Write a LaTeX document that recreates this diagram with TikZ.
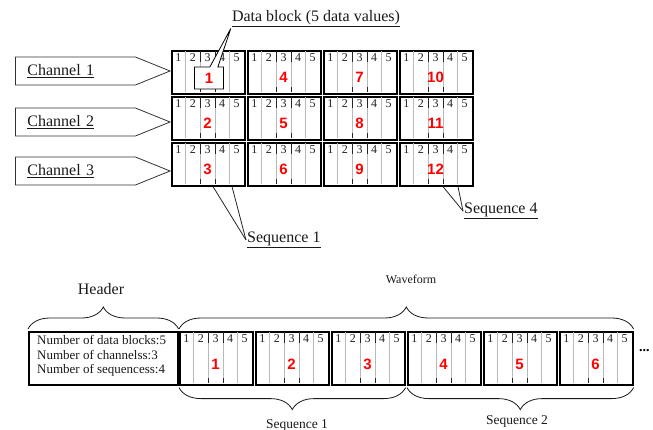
\documentclass[tikz,border=0pt]{standalone}
\usepackage{fontspec}
\setmainfont{Liberation Serif}
\newfontfamily\numfont{Liberation Sans}
\usetikzlibrary{shapes.symbols,shapes.callouts,decorations.pathreplacing,calc}

\tikzset{
  blockframe/.style={draw=black, line width=1.6pt, minimum width=73pt,
    inner sep=0pt, anchor=north west},
  colline/.style={draw=gray!55, line width=0.6pt},
  coltick/.style={draw=gray!30!black, line width=0.6pt},
  digit/.style={inner sep=0pt, text=gray!25!black, font=\fontsize{12}{12}\selectfont},
  bignum/.style={inner sep=0pt, text=red, font=\numfont\bfseries\fontsize{15}{15}\selectfont},
  chan/.style={signal, signal to=east, draw=gray!40!black, line width=0.8pt,
    minimum width=140pt, minimum height=28pt, signal pointer angle=44,
    inner xsep=12pt, text width=96pt, align=left, anchor=west,
    font=\fontsize{16}{16}\selectfont, text=gray!20!black},
  toplabel/.style={inner sep=1pt, text=gray!20!black, font=\fontsize{16}{16}\selectfont},
  botlabel/.style={inner sep=1pt, text=gray!20!black, font=\fontsize{13.5}{13.5}\selectfont},
  pointerline/.style={draw=gray!30!black, line width=0.8pt},
  bracestyle/.style={draw=gray!20!black, line width=0.8pt,
    decorate, decoration={brace, amplitude=22pt}},
  mbracestyle/.style={bracestyle, decoration={brace, amplitude=22pt, mirror}}
}

% one data block: name, x, y, height, big label
\newcommand\datablk[5]{%
  \node[blockframe, minimum height=#4pt] (#1) at (#2,#3) {};
  \begin{scope}[shift={(#1.north west)}]
    \foreach \i in {1,...,4}
      \draw[colline] (\i*14.6,0.8) -- (\i*14.6,#4-0.8);
    \foreach \i in {2,3} {
      \draw[coltick] (\i*14.6,0.8) -- (\i*14.6,12);
      \draw[coltick] (\i*14.6,#4-0.8) -- (\i*14.6,#4-6);
    }
    \foreach \i in {1,...,5}
      \node[digit] (#1-d\i) at (\i*14.6-7.3,8) {\i};
    \node[bignum] (#1-n) at (36.5,#4*0.63) {#5};
  \end{scope}%
}

\begin{document}
\begin{tikzpicture}[x=1pt, y=-1pt]
\useasboundingbox (0,0) rectangle (653,430);

% ---------- channel / sequence grid ----------
\node[chan] (ch1) at (15,71) {\underline{Channel 1}};
\node[chan] (ch2) at (15,122) {\underline{Channel 2}};
\node[chan] (ch3) at (15,171) {\underline{Channel 3}};

\datablk{g1}{171}{50}{43}{}
\datablk{g2}{171}{96}{43}{2}
\datablk{g3}{171}{142}{43}{3}
\datablk{g4}{247}{50}{43}{4}
\datablk{g5}{247}{96}{43}{5}
\datablk{g6}{247}{142}{43}{6}
\datablk{g7}{323}{50}{43}{7}
\datablk{g8}{323}{96}{43}{8}
\datablk{g9}{323}{142}{43}{9}
\datablk{g10}{399}{50}{43}{10}
\datablk{g11}{399}{96}{43}{11}
\datablk{g12}{399}{142}{43}{12}

% data block callout
\node[toplabel] (dbtext) at (316,19) {\underline{Data block (5 data values)}};
\node[rectangle callout, draw=black, fill=white, line width=0.8pt,
      minimum width=29pt, minimum height=22pt, inner sep=0pt,
      callout pointer width=8pt,
      callout absolute pointer={(dbtext.south west)},
      text=red, font=\numfont\bfseries\fontsize{15}{15}\selectfont]
  (cbox) at (209,78) {1};

% sequence callouts
\node[toplabel, anchor=west] (seqA) at (246,240) {\underline{Sequence 1}};
\draw[pointerline] ($(g3.south west)+(42,0)$) -- (seqA.west);
\draw[pointerline] ($(g3.south west)+(61,0)$) -- (seqA.west);
\node[toplabel, anchor=west] (seqB) at (463,211) {\underline{Sequence 4}};
\draw[pointerline] ($(g12.south west)+(44,0)$) -- (seqB.west);
\draw[pointerline] ($(g12.south west)+(59,0)$) -- (seqB.west);

% ---------- serialized stream ----------
\node[blockframe, minimum width=149pt, minimum height=53pt] (hdr) at (28,331) {};
\node[anchor=west, inner sep=0pt, align=left, text=gray!20!black,
      font=\fontsize{13}{14.5}\selectfont] (hdrtxt) at (37,356)
  {Number of data blocks:5\\Number of channelss:3\\Number of sequencess:4};

\datablk{s1}{179}{331}{53}{1}
\datablk{s2}{255}{331}{53}{2}
\datablk{s3}{331}{331}{53}{3}
\datablk{s4}{407}{331}{53}{4}
\datablk{s5}{483}{331}{53}{5}
\datablk{s6}{559}{331}{53}{6}

\node[inner sep=0pt, font=\bfseries\fontsize{14}{14}\selectfont, anchor=west] (more) at (639,351) {...};

% braces
\draw[bracestyle] ($(hdr.north west)+(0,-2)$) -- ($(hdr.north east)+(0,-2)$);
\node[toplabel] (hdrlbl) at (101,289) {Header};
\draw[bracestyle] ($(s1.north west)+(0,-2)$) -- ($(s6.north east)+(0,-2)$);
\node[toplabel, font=\fontsize{12}{12}\selectfont] (wflbl) at (411,279) {Waveform};
\draw[mbracestyle] ($(s1.south west)+(0,2)$) -- ($(s3.south east)+(0,2)$);
\node[botlabel] (seq1lbl) at (297,425) {Sequence 1};
\draw[mbracestyle] ($(s4.south west)+(0,2)$) -- ($(s6.south east)+(0,2)$);
\node[botlabel] (seq2lbl) at (517,421) {Sequence 2};
\end{tikzpicture}
\end{document}
